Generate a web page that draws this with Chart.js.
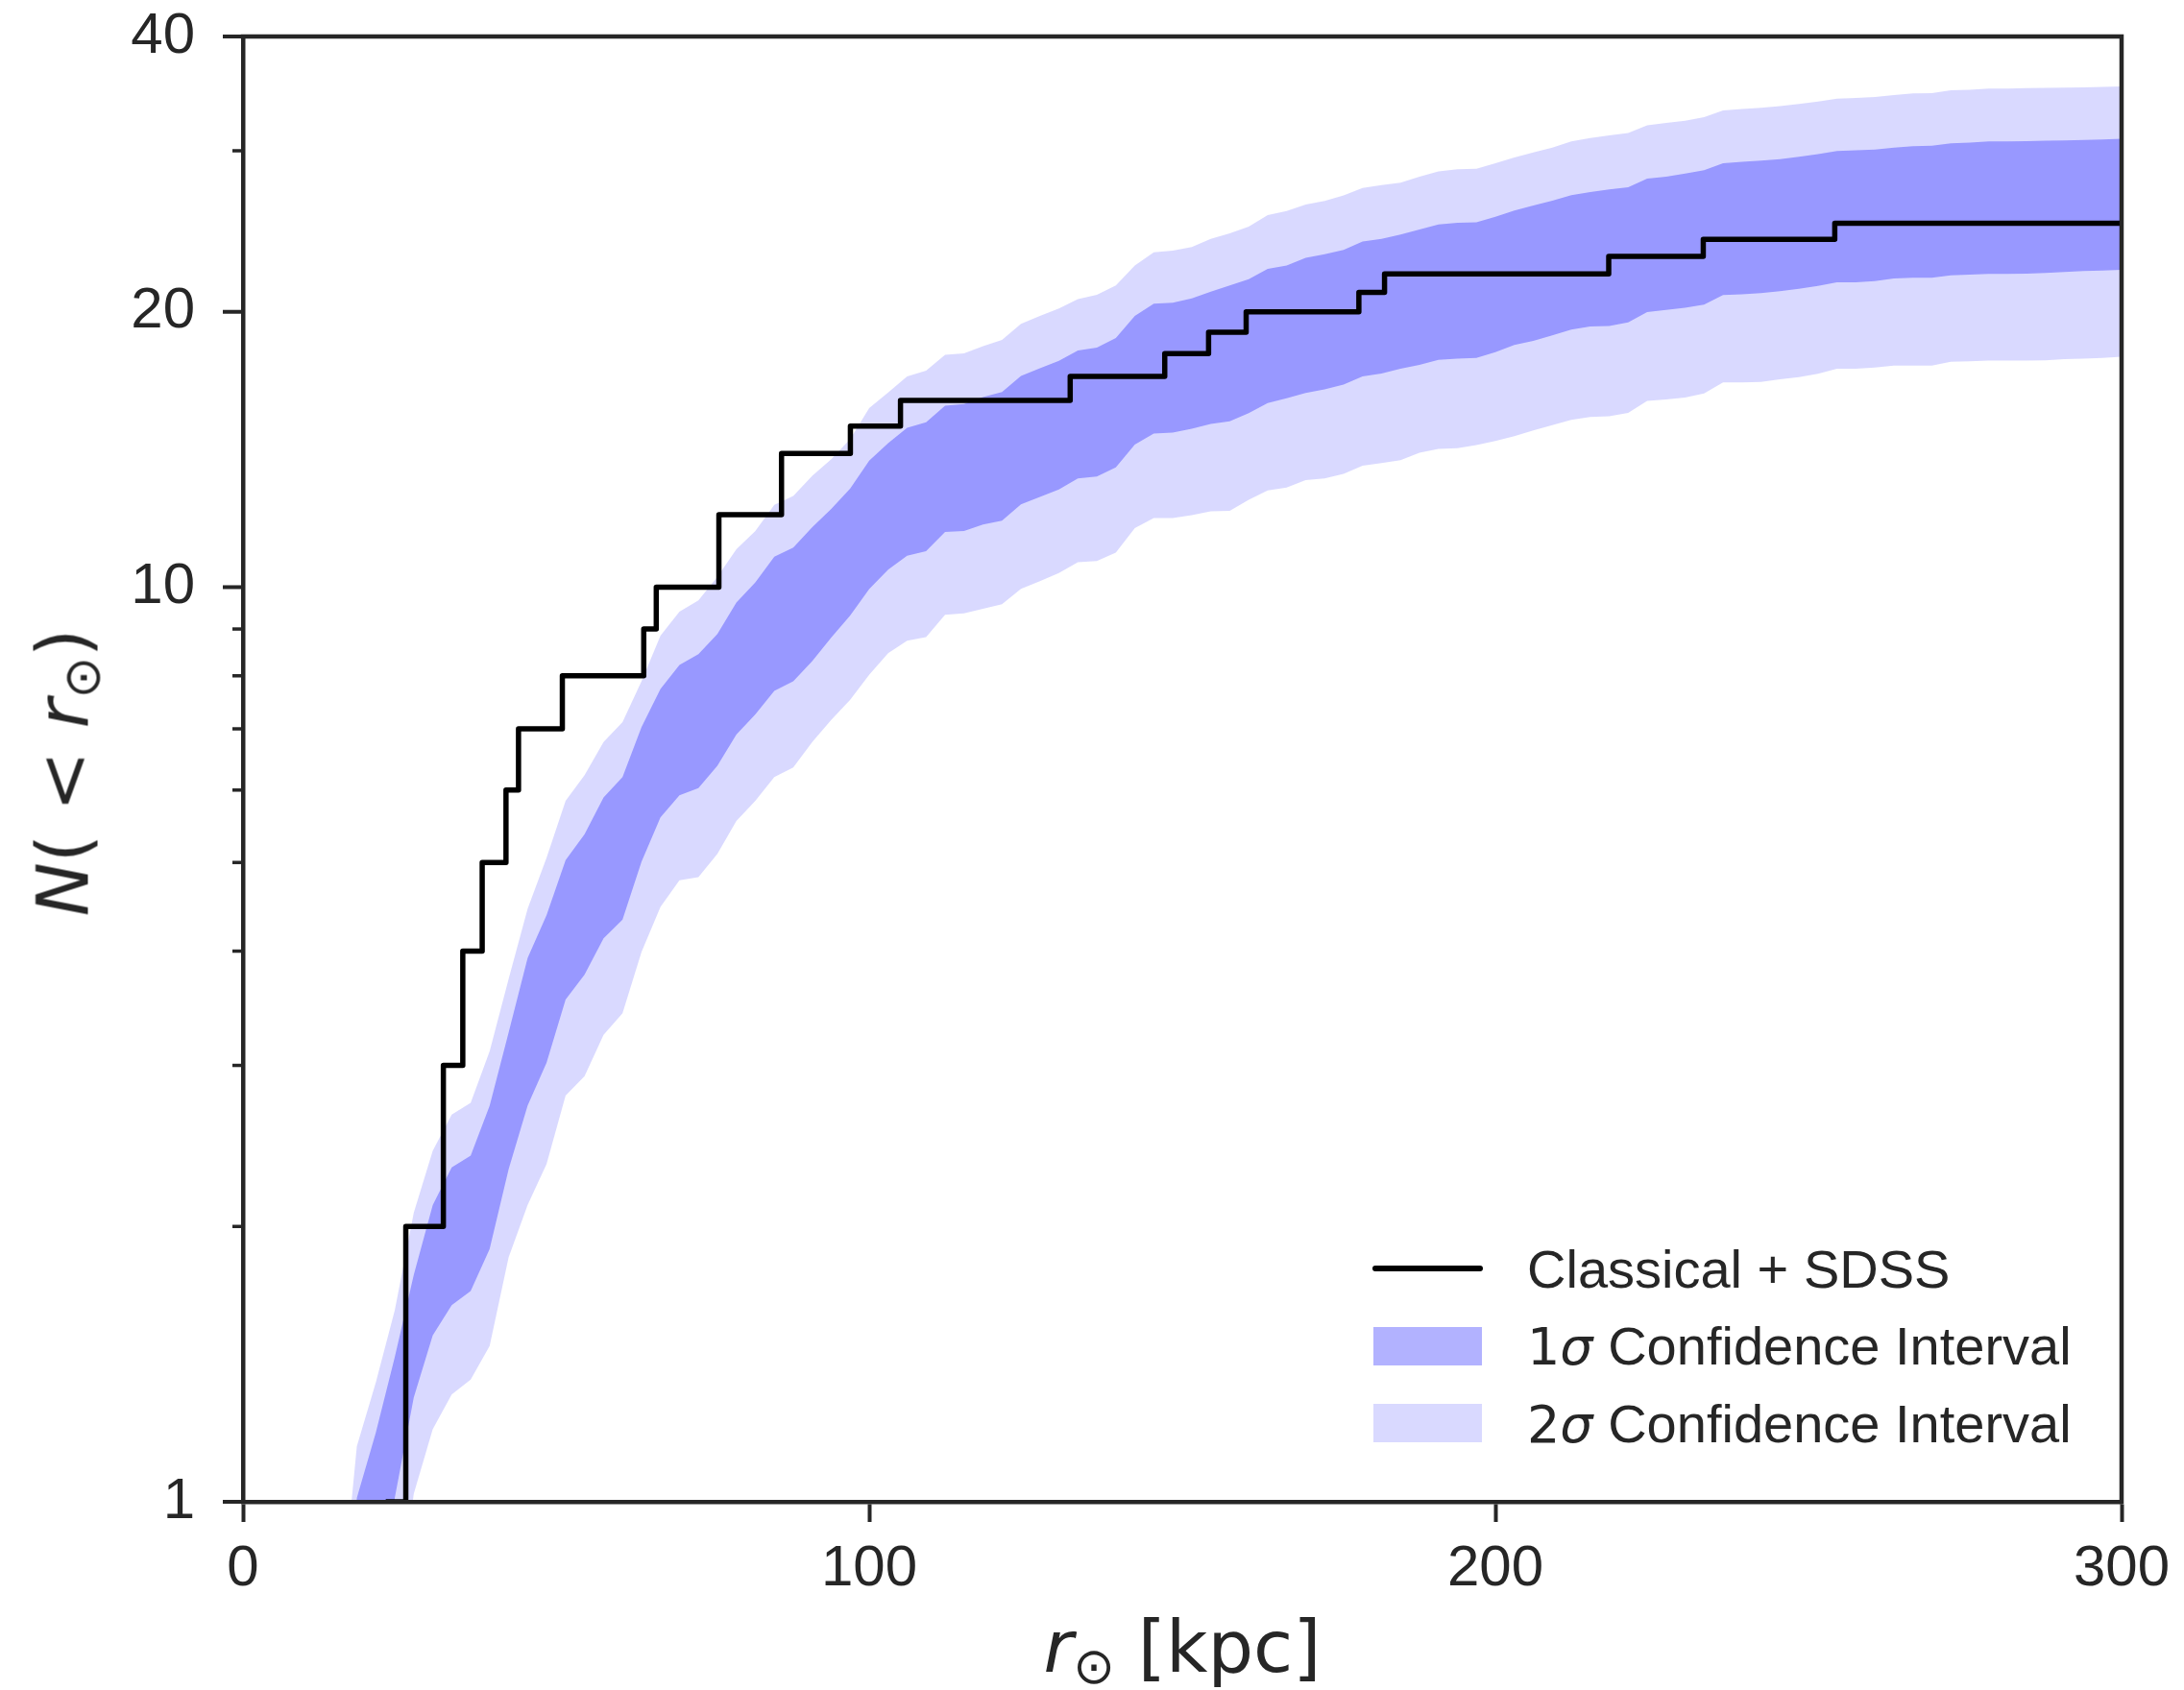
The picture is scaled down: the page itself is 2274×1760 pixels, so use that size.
<!DOCTYPE html>
<html>
<head>
<meta charset="utf-8">
<title>N(&lt; r) satellites</title>
<script src="https://cdn.jsdelivr.net/npm/chart.js@4.4.1/dist/chart.umd.min.js"></script>
<style>
  html, body { margin: 0; padding: 0; background: #fff; overflow: hidden; }
  #wrap { position: relative; width: 2274px; height: 1760px; overflow: hidden; }
  #chart { position: absolute; left: 0; top: 0; }
  .axis-title {
    position: absolute; width: 1000px; height: 75px;
    font-family: "DejaVu Sans", sans-serif; font-size: 75px; line-height: 75px;
    color: #262626; text-align: center; white-space: nowrap;
  }
  .axis-title i { font-style: italic; }
  .axis-title .sub { position: relative; top: 12px; font-size: 52px; }
  #xtitle { left: 731px; top: 1678px; }
  #ytitle { left: -434px; top: 767px; transform: rotate(-90deg); }
  .leg-text {
    position: absolute; left: 1590px; height: 56px;
    font-family: "Liberation Sans", Arial, sans-serif; font-size: 56px; line-height: 56px;
    color: #262626; white-space: nowrap;
  }
  .leg-text .m { font-family: "DejaVu Sans", sans-serif; font-size: 54px; }
  .leg-text .m i { font-style: italic; }
  .leg-line { position: absolute; left: 1429px; top: 1318px; width: 115px; height: 5.5px; background: #000; border-radius: 3px; }
  .leg-box { position: absolute; left: 1430px; width: 113px; height: 40px; }
</style>
</head>
<body>
<div id="wrap">
  <canvas id="chart" width="2274" height="1760"></canvas>

  <div class="axis-title" id="xtitle"><i>r</i><span class="sub">⊙</span> [kpc]</div>
  <div class="axis-title" id="ytitle"><i>N</i>( &lt; <i>r</i><span class="sub">⊙</span>)</div>

  <div class="leg-line"></div>
  <div class="leg-text" style="top: 1294px;">Classical + SDSS</div>
  <div class="leg-box" style="top: 1382px; background: rgba(0, 0, 255, 0.3);"></div>
  <div class="leg-text" style="top: 1374px;"><span class="m">1<i>σ</i></span> Confidence Interval</div>
  <div class="leg-box" style="top: 1462px; background: rgba(0, 0, 255, 0.15);"></div>
  <div class="leg-text" style="top: 1455px;"><span class="m">2<i>σ</i></span> Confidence Interval</div>
</div>

<script>
"use strict";

// radius grid (kpc) the confidence bands are sampled on
const rKpc = [15.15, 18.18, 21.21, 24.24, 27.27, 30.30, 33.33, 36.36, 39.39, 42.42,
  45.45, 48.48, 51.52, 54.55, 57.58, 60.61, 63.64, 66.67, 69.70, 72.73,
  75.76, 78.79, 81.82, 84.85, 87.88, 90.91, 93.94, 96.97, 100.00, 103.03,
  106.06, 109.09, 112.12, 115.15, 118.18, 121.21, 124.24, 127.27, 130.30, 133.33,
  136.36, 139.39, 142.42, 145.45, 148.48, 151.52, 154.55, 157.58, 160.61, 163.64,
  166.67, 169.70, 172.73, 175.76, 178.79, 181.82, 184.85, 187.88, 190.91, 193.94,
  196.97, 200.00, 203.03, 206.06, 209.09, 212.12, 215.15, 218.18, 221.21, 224.24,
  227.27, 230.30, 233.33, 236.36, 239.39, 242.42, 245.45, 248.48, 251.52, 254.55,
  257.58, 260.61, 263.64, 266.67, 269.70, 272.73, 275.76, 278.79, 281.82, 284.85,
  287.88, 290.91, 293.94, 296.97, 300.00];

// 2 sigma upper edge
const upper2 = [0.70, 1.15, 1.35, 1.62, 2.07, 2.42, 2.65, 2.73, 3.11, 3.73,
  4.45, 5.06, 5.84, 6.23, 6.77, 7.12, 7.89, 8.85, 9.40, 9.67,
  10.26, 11.00, 11.52, 12.30, 12.58, 13.24, 13.80, 14.52, 15.70, 16.32,
  17.00, 17.25, 17.95, 18.01, 18.34, 18.63, 19.40, 19.80, 20.17, 20.65,
  20.88, 21.37, 22.48, 23.23, 23.33, 23.55, 24.04, 24.37, 24.78, 25.52,
  25.78, 26.20, 26.44, 26.81, 27.31, 27.52, 27.69, 28.10, 28.48, 28.63,
  28.67, 29.08, 29.50, 29.87, 30.23, 30.72, 30.97, 31.19, 31.37, 31.98,
  32.17, 32.36, 32.64, 33.21, 33.32, 33.43, 33.56, 33.76, 33.96, 34.21,
  34.27, 34.35, 34.51, 34.66, 34.69, 34.94, 34.97, 35.09, 35.09, 35.12,
  35.14, 35.17, 35.20, 35.24, 35.28];

// 1 sigma upper edge
const upper1 = [0.50, 1.01, 1.19, 1.44, 1.77, 2.11, 2.32, 2.39, 2.71, 3.26,
  3.93, 4.38, 5.03, 5.37, 5.89, 6.20, 7.03, 7.74, 8.22, 8.45,
  8.89, 9.62, 10.12, 10.80, 11.05, 11.63, 12.18, 12.82, 13.75, 14.37,
  14.94, 15.15, 15.79, 15.86, 16.14, 16.34, 17.02, 17.35, 17.68, 18.14,
  18.28, 18.72, 19.80, 20.41, 20.46, 20.69, 21.04, 21.37, 21.71, 22.28,
  22.48, 22.91, 23.12, 23.38, 23.88, 24.04, 24.30, 24.61, 24.92, 25.02,
  25.06, 25.41, 25.81, 26.14, 26.46, 26.83, 27.04, 27.22, 27.37, 27.97,
  28.11, 28.33, 28.57, 29.08, 29.17, 29.27, 29.38, 29.55, 29.74, 29.98,
  30.03, 30.10, 30.23, 30.35, 30.38, 30.57, 30.62, 30.72, 30.72, 30.74,
  30.77, 30.79, 30.82, 30.87, 30.92];

// 1 sigma lower edge
const lower1 = [0.50, 0.55, 0.60, 1.01, 1.30, 1.52, 1.64, 1.70, 1.89, 2.31,
  2.71, 3.02, 3.54, 3.77, 4.13, 4.33, 5.01, 5.60, 5.92, 6.03,
  6.38, 6.90, 7.26, 7.70, 7.89, 8.30, 8.81, 9.31, 9.95, 10.45,
  10.82, 10.95, 11.49, 11.52, 11.71, 11.82, 12.32, 12.55, 12.79, 13.15,
  13.21, 13.52, 14.32, 14.72, 14.76, 14.90, 15.08, 15.18, 15.50, 15.90,
  16.09, 16.30, 16.45, 16.65, 17.00, 17.12, 17.33, 17.50, 17.72, 17.78,
  17.81, 18.07, 18.40, 18.59, 18.85, 19.12, 19.28, 19.30, 19.47, 19.99,
  20.10, 20.20, 20.37, 20.86, 20.90, 20.96, 21.06, 21.20, 21.35, 21.54,
  21.54, 21.61, 21.75, 21.79, 21.79, 21.93, 21.96, 22.00, 22.00, 22.02,
  22.05, 22.11, 22.16, 22.19, 22.23];

// 2 sigma lower edge
const lower2 = [0.50, 0.55, 0.60, 0.70, 1.02, 1.20, 1.31, 1.36, 1.48, 1.85,
  2.11, 2.34, 2.78, 2.92, 3.24, 3.42, 3.99, 4.47, 4.78, 4.82,
  5.11, 5.55, 5.84, 6.20, 6.35, 6.77, 7.16, 7.53, 8.02, 8.47,
  8.74, 8.82, 9.33, 9.36, 9.47, 9.58, 9.96, 10.15, 10.36, 10.65,
  10.68, 10.91, 11.60, 11.90, 11.90, 11.99, 12.10, 12.12, 12.46, 12.76,
  12.85, 13.09, 13.15, 13.30, 13.58, 13.67, 13.77, 14.03, 14.16, 14.19,
  14.30, 14.45, 14.62, 14.84, 15.04, 15.24, 15.35, 15.38, 15.51, 15.98,
  16.04, 16.12, 16.28, 16.74, 16.74, 16.76, 16.88, 16.97, 17.11, 17.33,
  17.33, 17.38, 17.47, 17.47, 17.47, 17.64, 17.66, 17.69, 17.69, 17.69,
  17.70, 17.76, 17.78, 17.81, 17.86];

// observed cumulative count (Classical + SDSS): radius of each jump and count after it
const stepR = [22.8, 26.0, 32.0, 35.1, 38.2, 42.0, 44.0, 51.0, 64.0, 66.0, 76.0, 86.0,
  97.0, 105.0, 132.1, 147.2, 154.2, 160.2, 178.2, 182.3, 218.1, 233.2, 254.2, 300.0];
const stepN = [1, 2, 3, 4, 5, 6, 7, 8, 9, 10, 12, 14,
  15, 16, 17, 18, 19, 20, 21, 22, 23, 24, 25, 25];

// axis ticks
const xTicks = [0, 100, 200, 300];
const yTicks = [1, 10, 20, 40];
const yMinorTicks = [2, 3, 4, 5, 6, 7, 8, 9, 30];

const axisColor = "#262626";

function pairs(xs, ys) {
  return xs.map((x, i) => ({ x: x, y: ys[i] }));
}

function bandEdge(ys, fillColor, fillTarget) {
  return {
    data: pairs(rKpc, ys),
    borderWidth: 0,
    borderColor: "transparent",
    backgroundColor: fillColor,
    pointRadius: 0,
    tension: 0,
    fill: fillTarget,
  };
}

// y tick marks (major + minor log ticks) and the top / right frame lines
const frameAndYTicks = {
  id: "frameAndYTicks",
  afterDraw(chart) {
    const ctx = chart.ctx;
    const a = chart.chartArea;
    const y = chart.scales.y;

    function tick(v, len, width) {
      const py = y.getPixelForValue(v);
      ctx.lineWidth = width;
      ctx.beginPath();
      ctx.moveTo(a.left - len, py);
      ctx.lineTo(a.left, py);
      ctx.stroke();
    }

    ctx.save();
    ctx.strokeStyle = axisColor;
    yTicks.forEach((v) => tick(v, 21, 4));
    yMinorTicks.forEach((v) => tick(v, 11, 3.5));

    ctx.lineWidth = 4.5;
    ctx.lineCap = "square";
    ctx.beginPath();
    ctx.moveTo(a.left, a.top);
    ctx.lineTo(a.right, a.top);
    ctx.lineTo(a.right, a.bottom);
    ctx.stroke();
    ctx.restore();
  },
};

const tickFont = { family: "'Liberation Sans', Arial, sans-serif", size: 60 };

new Chart(document.getElementById("chart").getContext("2d"), {
  type: "line",
  data: {
    datasets: [
      {
        label: "Classical + SDSS",
        data: pairs(stepR, stepN),
        stepped: true,
        borderColor: "#000000",
        borderWidth: 5.5,
        borderJoinStyle: "round",
        pointRadius: 0,
        fill: false,
      },
      bandEdge(lower2, "transparent", false),
      bandEdge(upper2, "rgba(0, 0, 255, 0.15)", "-1"),
      bandEdge(lower1, "transparent", false),
      bandEdge(upper1, "rgba(0, 0, 255, 0.3)", "-1"),
    ],
  },
  options: {
    responsive: false,
    animation: false,
    devicePixelRatio: 1,
    events: [],
    layout: { padding: { left: 0, top: 38, right: 65, bottom: 0 } },
    plugins: {
      legend: { display: false },
      tooltip: { enabled: false },
    },
    scales: {
      x: {
        type: "linear",
        min: 0,
        max: 300,
        afterFit: (s) => { s.height = 196; },
        afterBuildTicks: (s) => { s.ticks = xTicks.map((v) => ({ value: v })); },
        ticks: { font: tickFont, color: axisColor, padding: 13, maxRotation: 0, autoSkip: false },
        grid: { drawOnChartArea: false, drawTicks: true, tickLength: 21, tickWidth: 4, tickColor: axisColor, z: 1 },
        border: { display: true, color: axisColor, width: 4.5, z: 1 },
      },
      y: {
        type: "logarithmic",
        min: 1,
        max: 40,
        afterFit: (s) => { s.width = 253; },
        afterBuildTicks: (s) => { s.ticks = yTicks.map((v) => ({ value: v })); },
        // labels sit 50px left of the spine; the visible tick marks come from the plugin
        ticks: {
          font: tickFont,
          color: axisColor,
          padding: 0,
          autoSkip: false,
          callback: (v) => String(v),
        },
        grid: { drawOnChartArea: false, drawTicks: true, tickLength: 50, tickColor: "transparent" },
        border: { display: true, color: axisColor, width: 4.5, z: 1 },
      },
    },
  },
  plugins: [frameAndYTicks],
});
</script>
</body>
</html>
